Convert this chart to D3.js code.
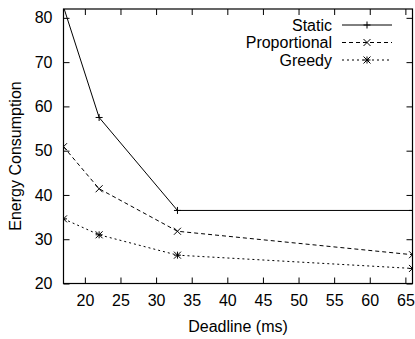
<!DOCTYPE html>
<html><head><meta charset="utf-8">
<script src="https://cdn.jsdelivr.net/npm/d3@7"></script>
<style>body{margin:0;background:#fff}svg{display:block}text{font-family:"Liberation Sans",Arial,sans-serif;fill:#000}</style>
</head><body><div id="c"></div>
<script>
const deadlines = [17, 22, 33, 66];
const staticVals = [82.5, 57.5, 36.5, 36.5];
const proportionalVals = [50.9, 41.4, 31.8, 26.5];
const greedyVals = [34.6, 31.0, 26.4, 23.4];
const seriesNames = ["Static", "Proportional", "Greedy"];
const xTicks = [20, 25, 30, 35, 40, 45, 50, 55, 60, 65];
const yTicks = [20, 30, 40, 50, 60, 70, 80];

const W = 415, H = 339;
const FS = 16;
const svg = d3.select("#c").append("svg").attr("width", W).attr("height", H);
const x = d3.scaleLinear().domain([17, 66]).range([63.5, 412.5]);
const y = d3.scaleLinear().domain([20, 82]).range([283.5, 9]);

svg.append("defs").append("clipPath").attr("id", "clip").append("rect")
  .attr("x", 63.5).attr("y", 9).attr("width", 349).attr("height", 274.5);

const tl = 6;
const xb = svg.append("g").attr("transform", "translate(0,283.5)")
  .call(d3.axisBottom(x).tickValues(xTicks).tickSizeInner(-tl).tickSizeOuter(0).tickPadding(11));
const xt = svg.append("g").attr("transform", "translate(0,9)")
  .call(d3.axisTop(x).tickValues(xTicks).tickSizeInner(-tl).tickSizeOuter(0).tickFormat(""));
const yl = svg.append("g").attr("transform", "translate(63.5,0)")
  .call(d3.axisLeft(y).tickValues(yTicks).tickSizeInner(-tl).tickSizeOuter(0).tickPadding(11));
const yr = svg.append("g").attr("transform", "translate(412.5,0)")
  .call(d3.axisRight(y).tickValues(yTicks).tickSizeInner(-tl).tickSizeOuter(0).tickFormat(""));
[xb, xt, yl, yr].forEach(g => {
  g.select(".domain").remove();
  g.selectAll("line").attr("stroke", "#000").attr("stroke-width", 1);
  g.selectAll("text").attr("font-size", FS).attr("font-family", '"Liberation Sans",Arial,sans-serif');
});
xb.selectAll("text").attr("dy", "0.71em");
svg.append("rect").attr("x", 63.5).attr("y", 9).attr("width", 349).attr("height", 274.5)
  .attr("fill", "none").attr("stroke", "#000").attr("stroke-width", 1.2);

const dash = ["none", "4,3", "2,3"];
const data = [staticVals, proportionalVals, greedyVals];
const line = d3.line().x((d, i) => x(deadlines[i])).y(d => y(d));
const s = 3.5;
function marker(g, type, cx, cy) {
  let p = "";
  if (type === 0 || type === 2) p += `M${cx - s},${cy}H${cx + s}M${cx},${cy - s}V${cy + s}`;
  if (type === 1 || type === 2) p += `M${cx - s},${cy - s}L${cx + s},${cy + s}M${cx - s},${cy + s}L${cx + s},${cy - s}`;
  g.append("path").attr("d", p).attr("stroke", "#000").attr("stroke-width", 1).attr("fill", "none");
}
const plot = svg.append("g").attr("clip-path", "url(#clip)");
data.forEach((vals, k) => {
  plot.append("path").datum(vals).attr("d", line).attr("fill", "none")
    .attr("stroke", "#000").attr("stroke-width", 1).attr("stroke-dasharray", dash[k]);
  vals.forEach((v, i) => { if (v <= 82) marker(plot, k, x(deadlines[i]), y(v)); });
});

const ly = [25, 42.5, 60];
seriesNames.forEach((n, k) => {
  svg.append("text").attr("x", 332).attr("y", ly[k]).attr("dy", "0.35em")
    .attr("text-anchor", "end").attr("font-size", FS).text(n);
  svg.append("line").attr("x1", 342).attr("x2", 392).attr("y1", ly[k]).attr("y2", ly[k])
    .attr("stroke", "#000").attr("stroke-width", 1).attr("stroke-dasharray", dash[k]);
  marker(svg, k, 367, ly[k]);
});

svg.append("text").attr("x", 238).attr("y", 331.5).attr("text-anchor", "middle")
  .attr("font-size", FS).text("Deadline (ms)");
svg.append("text").attr("transform", "translate(21,156) rotate(-90)")
  .attr("text-anchor", "middle").attr("font-size", FS).text("Energy Consumption");
</script></body></html>
